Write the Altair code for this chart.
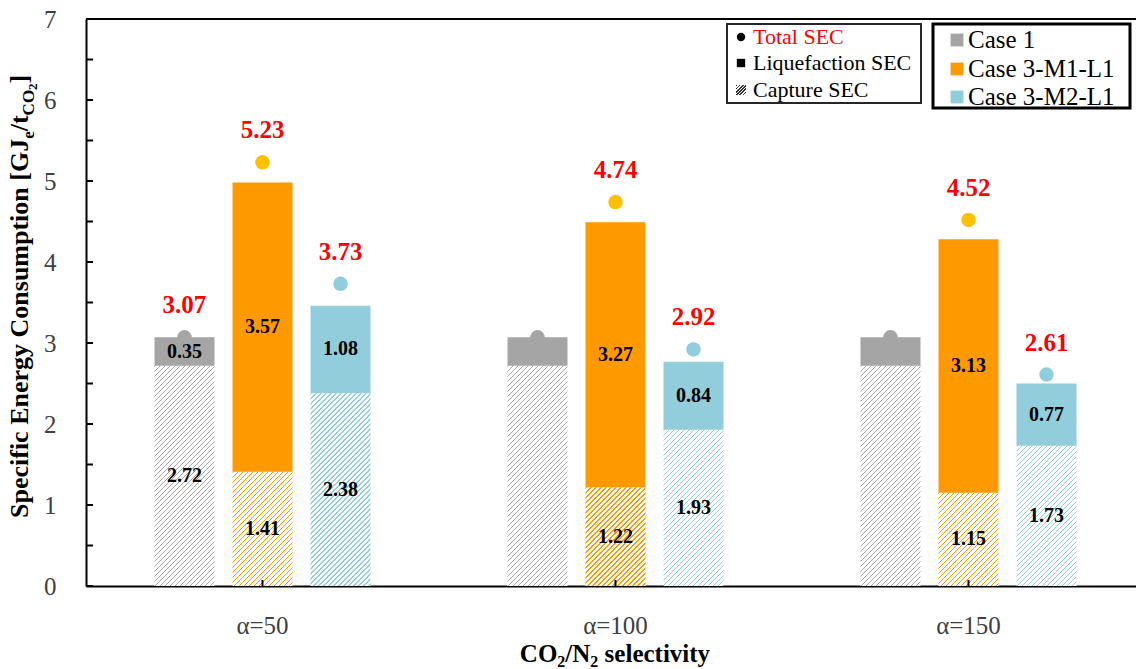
import altair as alt

# ---- data -------------------------------------------------------------
groups = ["α=50", "α=100", "α=150"]
cases = ["Case 1", "Case 3-M1-L1", "Case 3-M2-L1"]

capture_sec = {
    "Case 1": [2.72, 2.72, 2.72],
    "Case 3-M1-L1": [1.41, 1.22, 1.15],
    "Case 3-M2-L1": [2.38, 1.93, 1.73],
}
liquefaction_sec = {
    "Case 1": [0.35, 0.35, 0.35],
    "Case 3-M1-L1": [3.57, 3.27, 3.13],
    "Case 3-M2-L1": [1.08, 0.84, 0.77],
}
total_sec = {
    "Case 1": [3.07, 3.07, 3.07],
    "Case 3-M1-L1": [5.23, 4.74, 4.52],
    "Case 3-M2-L1": [3.73, 2.92, 2.61],
}

y_labels = [0, 1, 2, 3, 4, 5, 6, 7]
y_minor = [0, 0.5, 1, 1.5, 2, 2.5, 3, 3.5, 4, 4.5, 5, 5.5, 6, 6.5, 7]

case_colors = ["#a5a5a5", "#ff9900", "#92cddc"]
dot_colors = ["#a5a5a5", "#ffc000", "#92cddc"]

# ---- layout -----------------------------------------------------------
FONT = "Liberation Serif"
W, H = 1050, 567
Y_MAX = 7
PX_PER_UNIT = H / Y_MAX
BAR_W = 60


def hatch(color, w, h, period=5.0, frac=0.32, bg="white"):
    """Linear gradient with hard stops that draws '/' stripes at 45 degrees."""
    span = w + h
    k = span / (w * w + h * h)
    stops = []
    n = int(span / period) + 1
    for i in range(n + 1):
        t0 = min(i * period / span, 1.0)
        t1 = min((i * period + period * frac) / span, 1.0)
        t2 = min((i + 1) * period / span, 1.0)
        stops += [
            {"offset": t0, "color": color},
            {"offset": t1, "color": color},
            {"offset": t1, "color": bg},
            {"offset": t2, "color": bg},
        ]
    return {"gradient": "linear", "x1": 0, "y1": 0, "x2": k * w, "y2": k * h, "stops": stops}


bar_rows, dot_rows = [], []
for ci, case in enumerate(cases):
    for gi, grp in enumerate(groups):
        cap = capture_sec[case][gi]
        liq = liquefaction_sec[case][gi]
        bar_rows.append({
            "group": grp, "case": case, "part": "capture",
            "lo": 0, "hi": cap, "value": cap,
            "paint": hatch(case_colors[ci], BAR_W, cap * PX_PER_UNIT),
        })
        bar_rows.append({
            "group": grp, "case": case, "part": "liquefaction",
            "lo": cap, "hi": round(cap + liq, 2), "value": liq,
            "paint": case_colors[ci],
        })
        dot_rows.append({"group": grp, "case": case, "total": total_sec[case][gi]})

x_enc = alt.X(
    "group:N", sort=groups,
    scale=alt.Scale(range=[0, 1059], paddingInner=0.388, paddingOuter=0.194),
    axis=alt.Axis(
        title=None, labelAngle=0, labelFont=FONT, labelFontSize=25, labelColor="#404040",
        ticks=False, grid=False, domainColor="black", domainWidth=2, labelPadding=27,
    ),
)
xoff_enc = alt.XOffset("case:N", sort=cases, scale=alt.Scale(paddingInner=0.2308, paddingOuter=0))
y_scale = alt.Scale(domain=[0, Y_MAX], nice=False, zero=True)
y_axis = alt.Axis(
    title=None, values=y_labels, format="d", labelFont=FONT, labelFontSize=25, labelColor="#404040",
    ticks=False, grid=False, domainColor="black", domainWidth=2, labelPadding=30,
)

show_label = "datum.case != 'Case 1' || datum.group == 'α=50'"

bars = alt.Chart(alt.Data(values=bar_rows)).mark_bar(strokeWidth=0).encode(
    x=x_enc, xOffset=xoff_enc,
    y=alt.Y("lo:Q", scale=y_scale, axis=y_axis), y2="hi:Q",
    fill=alt.Fill("paint:N", scale=None),
)

seg_labels = alt.Chart(alt.Data(values=bar_rows)).transform_filter(show_label).transform_calculate(
    mid="(datum.lo + datum.hi) / 2"
).mark_text(font=FONT, fontSize=20, fontWeight="bold", color="black", baseline="middle").encode(
    x=alt.X("group:N", sort=groups), xOffset=xoff_enc,
    y=alt.Y("mid:Q", scale=y_scale),
    text=alt.Text("value:Q", format=".2f"),
)

dots = alt.Chart(alt.Data(values=dot_rows)).mark_point(filled=True, size=210, opacity=1, shape="circle").encode(
    x=alt.X("group:N", sort=groups), xOffset=xoff_enc,
    y=alt.Y("total:Q", scale=y_scale),
    fill=alt.Fill("case:N", scale=alt.Scale(domain=cases, range=dot_colors), legend=None),
)

total_labels = alt.Chart(alt.Data(values=dot_rows)).transform_filter(show_label).mark_text(
    font=FONT, fontSize=25, fontWeight="bold", color="#ff0000", dy=-32, baseline="middle"
).encode(
    x=alt.X("group:N", sort=groups), xOffset=xoff_enc,
    y=alt.Y("total:Q", scale=y_scale),
    text=alt.Text("total:Q", format=".2f"),
)

# inward ticks on both axes and the top frame line
y_ticks = alt.Chart(alt.Data(values=[{"v": v} for v in y_minor])).mark_rule(color="black", strokeWidth=2).encode(
    y=alt.Y("v:Q", scale=y_scale), x=alt.value(0), x2=alt.value(7),
)
x_ticks = alt.Chart(alt.Data(values=[{"group": g} for g in groups])).mark_rule(color="black", strokeWidth=2).encode(
    x=alt.X("group:N", sort=groups), y=alt.value(H), y2=alt.value(H - 6),
)
top_line = alt.Chart(alt.Data(values=[{}])).mark_rule(color="black", strokeWidth=2).encode(
    x=alt.value(0), x2=alt.value(W), y=alt.value(0),
)

# ---- axis titles with sub-scripts ---------------------------------------
TB = {"S": 556, "p": 556, "e": 444, "c": 444, "i": 278, "f": 333, " ": 250, "E": 667, "n": 556,
      "r": 444, "g": 500, "y": 500, "C": 722, "o": 500, "s": 389, "u": 556, "m": 833, "t": 333,
      "[": 333, "G": 778, "J": 500, "/": 278, "O": 778, "2": 500, "]": 333, "N": 722, "l": 278,
      "v": 500}


def text_width(s, size):
    return sum(TB.get(ch, 500) for ch in s) * size / 1000


y_title_parts = [("Specific Energy Consumption [GJ", 26, 0), ("e", 17, 6), ("/t", 26, 0),
                 ("CO", 17, 6), ("2", 13, 9), ("]", 26, 0)]
y_rows, pos = [], 499
for txt, size, shift in y_title_parts:
    y_rows.append({"t": txt, "px": -58 + shift, "py": pos, "fs": size})
    pos -= text_width(txt, size)

# the space before "selectivity" is kept as an advance, since SVG drops leading blanks
x_title_parts = [("CO", 25, 0), ("2", 16, 5), ("/N", 25, 0), ("2", 16, 5), (" ", 25, 0), ("selectivity", 25, 0)]
total_w = sum(text_width(t, s) for t, s, _ in x_title_parts)
x_rows, pos = [], 529 - total_w / 2
for txt, size, shift in x_title_parts:
    if txt.strip():
        x_rows.append({"t": txt, "px": pos, "py": 643 + shift, "fs": size})
    pos += text_width(txt, size)

y_title = alt.Chart(alt.Data(values=y_rows)).mark_text(
    font=FONT, fontWeight="bold", angle=270, align="left", baseline="alphabetic", color="black"
).encode(
    x=alt.X("px:Q", scale=None), y=alt.Y("py:Q", scale=None),
    size=alt.Size("fs:Q", scale=None), text="t:N",
)
x_title = alt.Chart(alt.Data(values=x_rows)).mark_text(
    font=FONT, fontWeight="bold", align="left", baseline="alphabetic", color="black"
).encode(
    x=alt.X("px:Q", scale=None), y=alt.Y("py:Q", scale=None),
    size=alt.Size("fs:Q", scale=None), text="t:N",
)

# ---- legends ----------------------------------------------------------
legend_boxes = alt.Chart(alt.Data(values=[
    {"x": 641, "x2": 835, "y": 5, "y2": 84, "sw": 2, "c": "#262626"},
    {"x": 847, "x2": 1044, "y": 5, "y2": 89, "sw": 3, "c": "black"},
])).mark_rect(fill="white").encode(
    x=alt.X("x:Q", scale=None), x2="x2:Q", y=alt.Y("y:Q", scale=None), y2="y2:Q",
    strokeWidth=alt.StrokeWidth("sw:Q", scale=None),
    stroke=alt.Stroke("c:N", scale=None),
)

kind_symbols = alt.Chart(alt.Data(values=[
    {"x": 655, "y": 18, "sh": "circle"},
    {"x": 655, "y": 44, "sh": "square"},
])).mark_point(filled=True, size=70, opacity=1, color="black").encode(
    x=alt.X("x:Q", scale=None), y=alt.Y("y:Q", scale=None), shape=alt.Shape("sh:N", scale=None),
)
kind_hatch = alt.Chart(alt.Data(values=[
    {"x": 650, "x2": 660, "y": 66, "y2": 76, "paint": hatch("#333333", 10, 10, period=3.2, frac=0.5)},
])).mark_rect(strokeWidth=0).encode(
    x=alt.X("x:Q", scale=None), x2="x2:Q", y=alt.Y("y:Q", scale=None), y2="y2:Q",
    fill=alt.Fill("paint:N", scale=None),
)
kind_text = alt.Chart(alt.Data(values=[
    {"x": 667, "y": 18, "t": "Total SEC", "c": "#ff0000"},
    {"x": 667, "y": 44, "t": "Liquefaction SEC", "c": "black"},
    {"x": 667, "y": 71, "t": "Capture SEC", "c": "black"},
])).mark_text(font=FONT, fontSize=22, align="left", baseline="middle").encode(
    x=alt.X("x:Q", scale=None), y=alt.Y("y:Q", scale=None), text="t:N",
    fill=alt.Fill("c:N", scale=None),
)

case_symbols = alt.Chart(alt.Data(values=[
    {"x": 871, "y": 21, "case": cases[0]},
    {"x": 871, "y": 50, "case": cases[1]},
    {"x": 871, "y": 78, "case": cases[2]},
])).mark_square(size=165, opacity=1).encode(
    x=alt.X("x:Q", scale=None), y=alt.Y("y:Q", scale=None),
    fill=alt.Fill("case:N", scale=alt.Scale(domain=cases, range=case_colors), legend=None),
)
case_text = alt.Chart(alt.Data(values=[
    {"x": 882, "y": 21, "t": cases[0]},
    {"x": 882, "y": 50, "t": cases[1]},
    {"x": 882, "y": 78, "t": cases[2]},
])).mark_text(font=FONT, fontSize=25, align="left", baseline="middle", color="black").encode(
    x=alt.X("x:Q", scale=None), y=alt.Y("y:Q", scale=None), text="t:N",
)

chart = alt.layer(
    bars, seg_labels, dots, total_labels, y_ticks, x_ticks, top_line,
    y_title, x_title,
    legend_boxes, kind_symbols, kind_hatch, kind_text, case_symbols, case_text,
).resolve_scale(fill="independent").properties(
    width=W, height=H,
    padding={"left": 86, "top": 19, "right": 0, "bottom": 83},
    autosize=alt.AutoSizeParams(type="none"),
    background="white",
).configure_view(stroke=None)

chart.save("out.html", embed_options={"renderer": "svg", "actions": False})
